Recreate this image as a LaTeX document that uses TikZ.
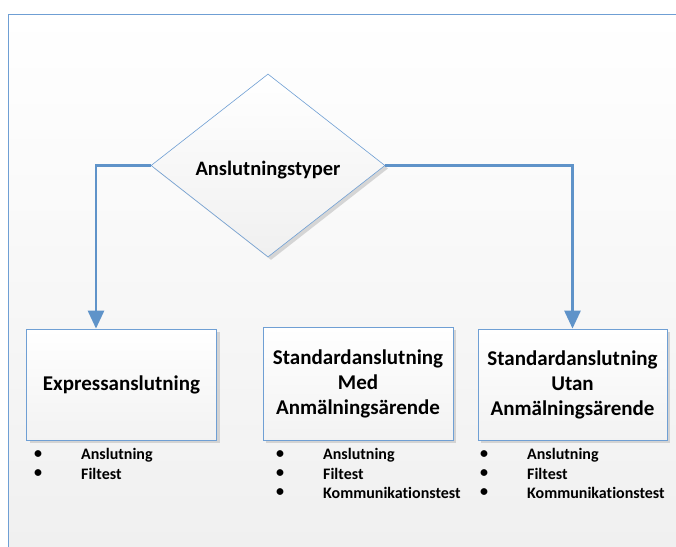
\documentclass[tikz,border=0pt]{standalone}
\usepackage{fontspec}
\setmainfont{Carlito}[Ligatures={NoCommon}]
\usetikzlibrary{shapes.geometric,shadows,arrows.meta}
\definecolor{lineblue}{HTML}{6F9FD4}
\definecolor{arrblue}{HTML}{5F93C9}
\begin{document}
\begin{tikzpicture}[x=1pt,y=-1pt,
  frame/.style={draw=lineblue,line width=0.8pt,top color=white,bottom color=gray!12},
  boxnode/.style={draw=lineblue,line width=0.8pt,top color=white,bottom color=gray!10,
    drop shadow={shadow xshift=3pt,shadow yshift=-3pt,fill=gray!45,opacity=0.7},
    align=center,inner sep=0pt,font=\bfseries\fontsize{21}{25}\selectfont},
  decision/.style={diamond,draw=lineblue,line width=0.6pt,top color=white,bottom color=gray!12,
    drop shadow={shadow xshift=3pt,shadow yshift=-3pt,fill=gray!45,opacity=0.7},
    inner sep=0pt,minimum width=234pt,minimum height=183pt},
  toptext/.style={inner sep=0pt,font=\bfseries\fontsize{20.5}{24}\selectfont},
  bul/.style={anchor=center,inner sep=0pt,font=\bfseries\fontsize{16}{18}\selectfont},
  itm/.style={anchor=west,inner sep=0pt,font=\bfseries\fontsize{16}{18}\selectfont},
  arr/.style={draw=arrblue,line width=2.8pt,-{Triangle[width=16pt,length=18pt]}}]
\useasboundingbox (0,0) rectangle (676,546);
\path[frame] (8,14) rectangle (690,560);
\node[decision] (top) at (268,165.5) {};
\node[toptext] (toplabel) at (268,170) {Anslutningstyper};
\node[boxnode,minimum width=190pt,minimum height=111pt] (b1) at (121.5,384.5) {Expressanslutning};
\node[boxnode,minimum width=190pt,minimum height=113pt] (b2) at (358,383.5) {Standardanslutning\\Med\\Anmälningsärende};
\node[boxnode,minimum width=189pt,minimum height=111pt] (b3) at (572.5,384.5) {Standardanslutning\\Utan\\Anmälningsärende};
\draw[arr] (top.west) -| ([xshift=-25.5pt]b1.north);
\draw[arr] (top.east) -| (b3.north);
% lists
\node[bul] (d1a) at (38,455) {•};
\node[bul] (d1b) at (38,474) {•};
\node[itm] (t1a) at (81,455) {Anslutning};
\node[itm] (t1b) at (81,474) {Filtest};
\node[bul] (d2a) at (280,455) {•};
\node[bul] (d2b) at (280,474) {•};
\node[bul] (d2c) at (280,493) {•};
\node[itm] (t2a) at (323,455) {Anslutning};
\node[itm] (t2b) at (323,474) {Filtest};
\node[itm] (t2c) at (323,493) {Kommunikationstest};
\node[bul] (d3a) at (484,455) {•};
\node[bul] (d3b) at (484,474) {•};
\node[bul] (d3c) at (484,493) {•};
\node[itm] (t3a) at (527,455) {Anslutning};
\node[itm] (t3b) at (527,474) {Filtest};
\node[itm] (t3c) at (527,493) {Kommunikationstest};
\end{tikzpicture}
\end{document}
